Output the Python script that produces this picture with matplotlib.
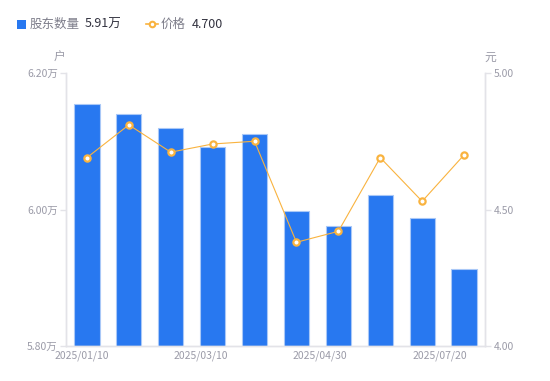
import matplotlib
matplotlib.use("Agg")
import matplotlib.pyplot as plt
from matplotlib.lines import Line2D

plt.rcParams['font.family'] = ['Noto Sans CJK SC', 'DejaVu Sans']

# data
dates = ["2025/01/10", "2025/01/20", "2025/02/28", "2025/03/10", "2025/03/20",
         "2025/03/31", "2025/04/30", "2025/05/20", "2025/06/30", "2025/07/20"]
holders = [6.155, 6.140, 6.119, 6.092, 6.111, 5.998, 5.976, 6.021, 5.987, 5.913]  # 万户
price = [4.69, 4.81, 4.71, 4.74, 4.75, 4.38, 4.42, 4.69, 4.53, 4.70]  # 元
shown_idx = [0, 3, 6, 9]
shown_pos = [-0.12, 2.72, 5.56, 8.43]  # where the labels sit along the axis
left_ticks = [5.80, 6.00, 6.20]
right_ticks = [4.00, 4.50, 5.00]

blue = "#2878F0"
orange = "#F9B33F"
axis_col = "#E3E3E8"
label_col = "#9B9BA8"

fig = plt.figure(figsize=(5.5, 3.81), dpi=100)
ax = fig.add_axes([66/550, 1-346/381, 419/550, 273/381])
ax2 = ax.twinx()

x = list(range(len(dates)))
ax.bar(x, holders, width=0.6, color=blue, edgecolor="#A9C8F7", linewidth=0.8, zorder=2)
ax.set_ylim(5.80, 6.20)
ax.set_xlim(-0.5, len(dates) - 0.5)
ax.set_yticks(left_ticks)
ax.set_yticklabels(["%.2f万" % v for v in left_ticks])
ax.set_xticks(shown_pos)
ax.set_xticklabels([dates[i] for i in shown_idx])

ax2.plot(x, price, color=orange, linewidth=0.8, marker="o", markersize=4.5,
         markerfacecolor="white", markeredgecolor=orange, markeredgewidth=1.6, zorder=3)
ax2.set_ylim(4.00, 5.00)
ax2.set_yticks(right_ticks)
ax2.set_yticklabels(["%.2f" % v for v in right_ticks])

for a in (ax, ax2):
    for s in a.spines.values():
        s.set_color(axis_col)
        s.set_linewidth(1)
    a.spines['top'].set_visible(False)
    a.tick_params(colors=label_col, labelsize=7.5, length=4, width=1)
    a.tick_params(axis='y', color=axis_col, pad=2)
ax.tick_params(axis='x', length=0, pad=3)
ax2.tick_params(axis='y', length=4)

# units
fig.text(59/550, 1-57/381, "户", color=label_col, fontsize=8.5, ha="center", va="center")
fig.text(490/550, 1-57/381, "元", color=label_col, fontsize=8.5, ha="center", va="center")

# legend row
fig.patches.append(plt.Rectangle((17/550, 1-29/381), 9/550, 9/381, transform=fig.transFigure,
                                 facecolor=blue, edgecolor="none"))
fig.text(30/550, 1-24.5/381, "股东数量", color="#7D7D8A", fontsize=9, va="center")
fig.text(85/550, 1-24.5/381, "%.2f万" % holders[-1], color="#333340", fontsize=9, va="center")
fig.lines.append(Line2D([146/550, 158/550], [1-24/381, 1-24/381], transform=fig.transFigure,
                        color=orange, linewidth=1.2))
fig.lines.append(Line2D([152/550], [1-24/381], transform=fig.transFigure, color=orange,
                        marker="o", markersize=4, markerfacecolor="white",
                        markeredgecolor=orange, markeredgewidth=1.5))
fig.text(161/550, 1-24.5/381, "价格", color="#7D7D8A", fontsize=9, va="center")
fig.text(192/550, 1-24.5/381, "%.3f" % price[-1], color="#333340", fontsize=9, va="center")

fig.savefig("out.png", dpi=100)
